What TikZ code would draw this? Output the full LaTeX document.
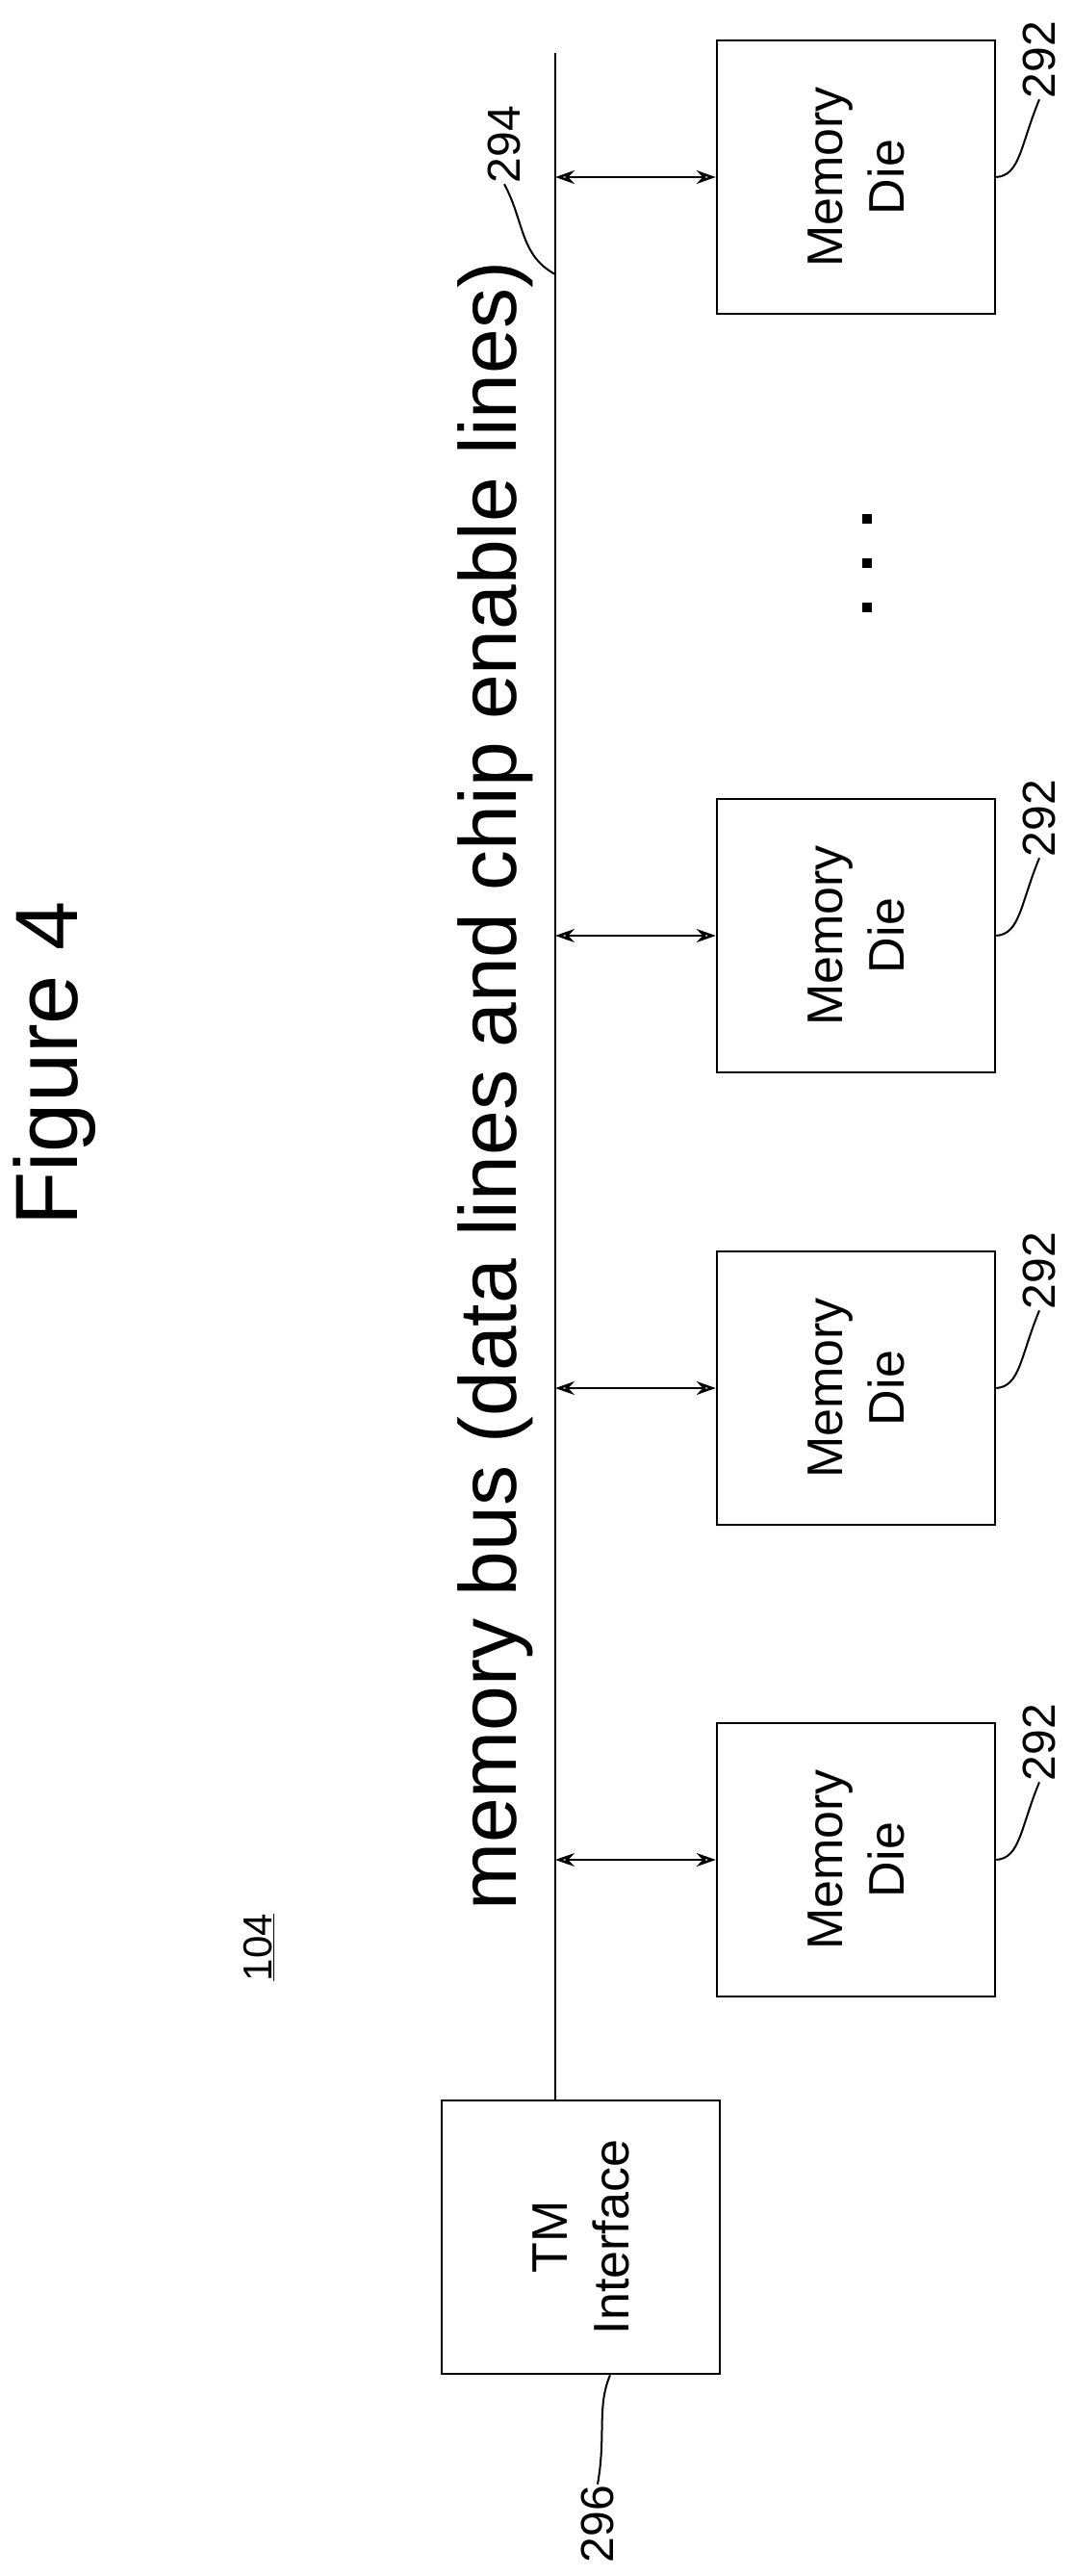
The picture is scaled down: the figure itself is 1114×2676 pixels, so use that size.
\documentclass[tikz,border=0pt]{standalone}
\usepackage{fontspec}
\setmainfont{Liberation Sans}
\usetikzlibrary{arrows.meta}
\begin{document}
\begin{tikzpicture}[x=1pt,y=-1pt,
  line width=2.5pt,
  diebox/.style={draw,rotate=90,minimum width=284pt,minimum height=289pt,inner sep=0pt,align=center,font=\fontsize{52}{64}\selectfont},
  refnum/.style={rotate=90,font=\fontsize{48}{50}\selectfont,inner sep=0pt},
  lead/.style={line width=2pt},
  busarrow/.style={{Stealth[open,length=20pt,width=14pt]}-{Stealth[open,length=20pt,width=14pt]}}]
\useasboundingbox (0,0) rectangle (1114,2676);
\node[rotate=90,font=\fontsize{92}{96}\selectfont] (fig) at (57,1105) {Figure 4};
\node[rotate=90,font=\fontsize{84}{90}\selectfont] (busl) at (515,1128) {memory bus (data lines and chip enable lines)};
\node[rotate=90,font=\fontsize{42}{44}\selectfont] (n104) at (269,2023) {\underline{104}};
\node[diebox] (tm) at (603.5,2324) {TM\\Interface};
\coordinate (bustop) at (577,55);
\draw (bustop) -- (bustop |- tm.east);
\foreach \i/\t in {1/42,2/830,3/1300,4/1790}{
  \node[diebox] (d\i) at (889.5,\t+142) {Memory\\Die};
  \draw[busarrow] (bustop |- d\i.center) -- (d\i.north);
  \node[refnum] (r\i) at (1080,\t+20) {292};
  \draw[lead] (r\i.west) .. controls (1060,\t+110) and (1060,\t+140) .. (d\i.south);
}
\node[refnum] (r294) at (524,150) {294};
\coordinate (c294) at (577,285);
\draw[lead] (r294.west) .. controls (545,230) and (540,265) .. (c294);
\node[refnum] (r296) at (621,2622) {296};
\draw[lead] (r296.east) .. controls (630,2530) and (620,2500) .. (tm.west -| 634,0);
\foreach \y in {539,585,631}{\fill (901-5,\y-5) rectangle (901+5,\y+5);}
\end{tikzpicture}
\end{document}
